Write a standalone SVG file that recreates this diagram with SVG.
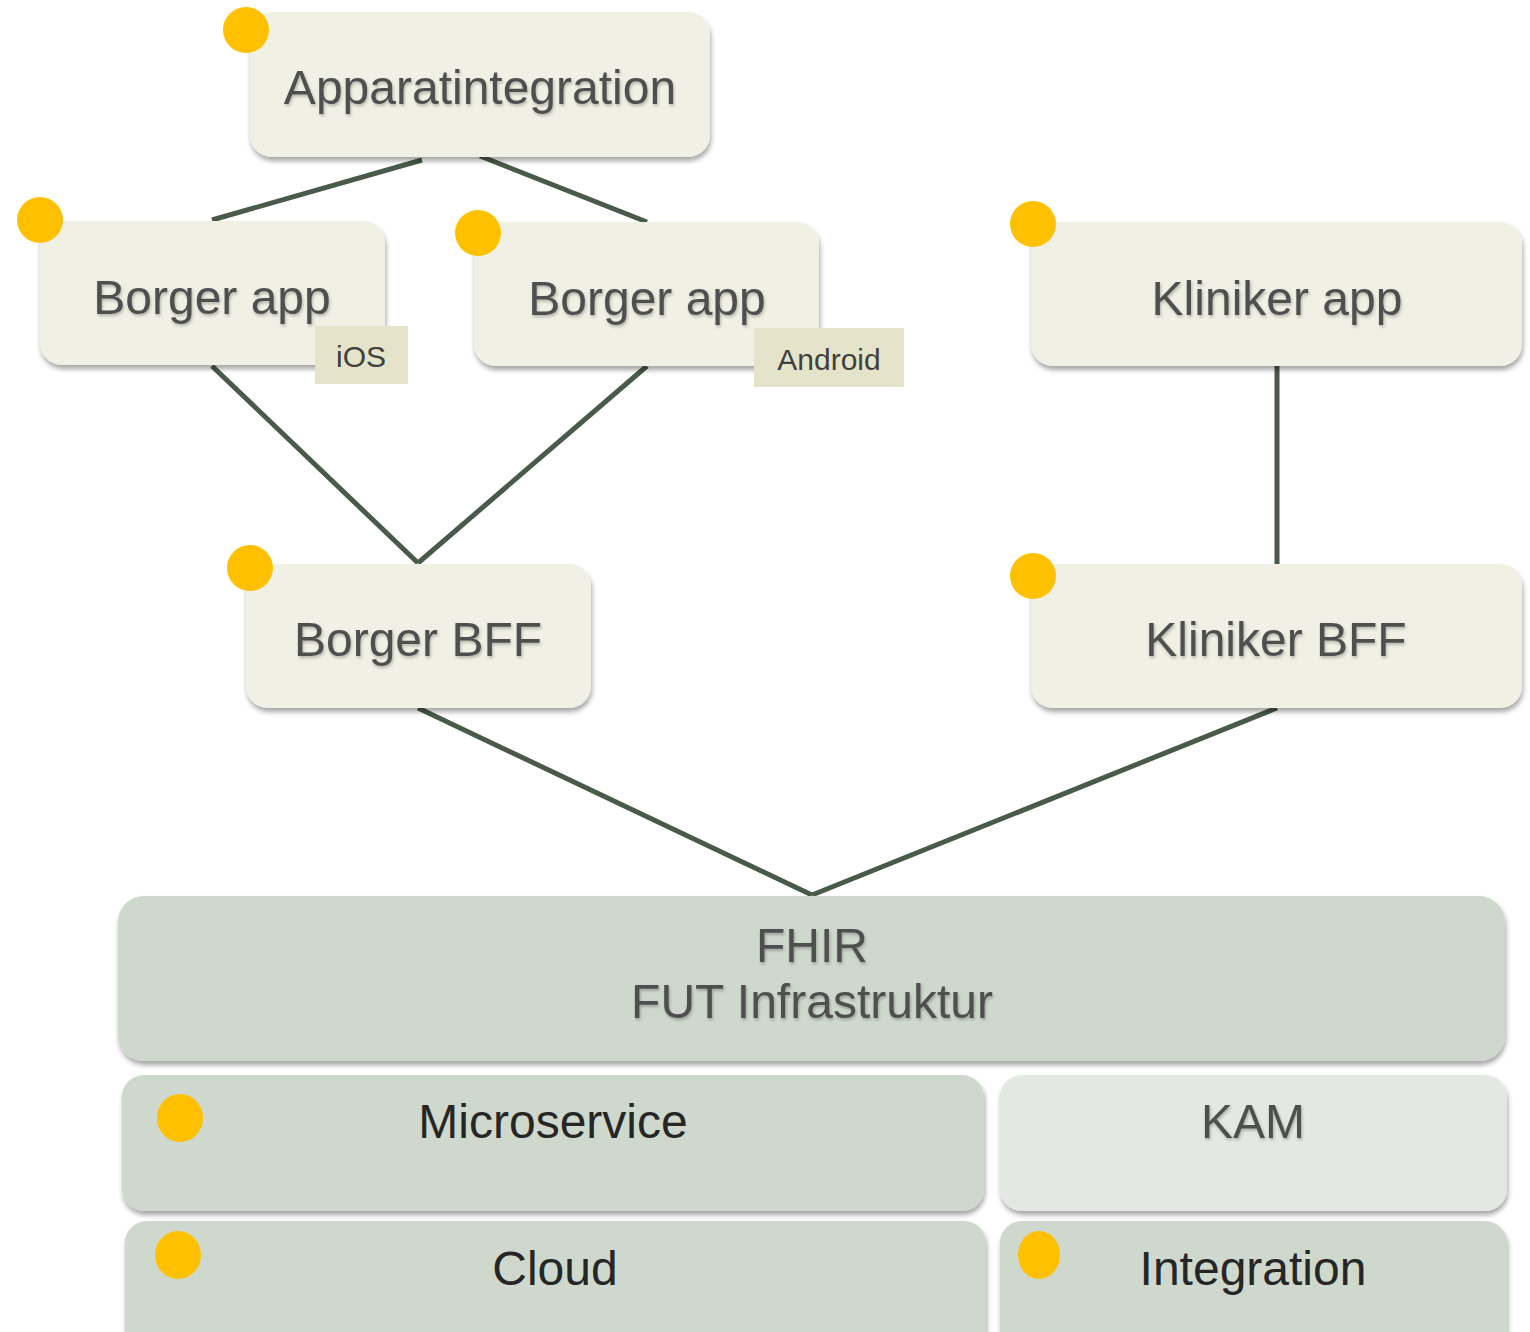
<svg xmlns="http://www.w3.org/2000/svg" width="1530" height="1332" viewBox="0 0 1530 1332">
<defs>
<filter id="sh" x="-10%" y="-10%" width="120%" height="130%">
<feDropShadow dx="1" dy="4" stdDeviation="2.5" flood-color="#000" flood-opacity="0.35"/>
</filter>
<filter id="tsh" x="-5%" y="-10%" width="110%" height="140%">
<feDropShadow dx="1" dy="2" stdDeviation="1.5" flood-color="#000" flood-opacity="0.25"/>
</filter>
</defs>
<style>
.cream{fill:#F1F0E4;filter:url(#sh)}
.green{fill:#CFD8CC;filter:url(#sh)}
.light{fill:#E3E8E2;filter:url(#sh)}
.tag{fill:#E5E4CB}
.dot{fill:#FFC000}
.t{font-family:"Liberation Sans",Arial,sans-serif;font-size:48px;fill:#505050;text-anchor:middle;filter:url(#tsh)}
.td{font-family:"Liberation Sans",Arial,sans-serif;font-size:48px;fill:#262626;text-anchor:middle}
.ts{font-family:"Liberation Sans",Arial,sans-serif;font-size:30px;fill:#404040;text-anchor:middle}
.c{stroke:#4A5A4A;stroke-width:5;fill:none}
</style>
<rect width="1530" height="1332" fill="#fff"/>
<g id="connectors">
<line class="c" x1="422" y1="160" x2="212" y2="220"/>
<line class="c" x1="480" y1="156" x2="647" y2="222"/>
<line class="c" x1="212" y1="366" x2="418" y2="563"/>
<line class="c" x1="647" y1="366" x2="418" y2="563"/>
<line class="c" x1="1277" y1="366" x2="1277" y2="565"/>
<line class="c" x1="418" y1="708" x2="812" y2="895"/>
<line class="c" x1="1277" y1="708" x2="812" y2="895"/>
</g>
<g id="apparatintegration">
<rect class="cream" x="250" y="12" width="460" height="145" rx="22"/>
<text class="t" x="480" y="104">Apparatintegration</text>
<circle class="dot" cx="246" cy="30" r="23"/>
</g>
<g id="borger-app-ios">
<rect class="cream" x="40" y="221" width="345" height="144" rx="22"/>
<text class="t" x="212" y="314">Borger app</text>
<circle class="dot" cx="40" cy="220" r="23"/>
<rect class="tag" x="315" y="326" width="93" height="58"/>
<text class="ts" x="361" y="367">iOS</text>
</g>
<g id="borger-app-android">
<rect class="cream" x="474" y="222" width="345" height="144" rx="22"/>
<text class="t" x="647" y="315">Borger app</text>
<circle class="dot" cx="478" cy="233" r="23"/>
<rect class="tag" x="754" y="328" width="150" height="59"/>
<text class="ts" x="829" y="370">Android</text>
</g>
<g id="kliniker-app">
<rect class="cream" x="1031" y="222" width="491" height="144" rx="22"/>
<text class="t" x="1277" y="315">Kliniker app</text>
<circle class="dot" cx="1033" cy="224" r="23"/>
</g>
<g id="borger-bff">
<rect class="cream" x="246" y="564" width="345" height="144" rx="22"/>
<text class="t" x="418" y="656">Borger BFF</text>
<circle class="dot" cx="250" cy="568" r="23"/>
</g>
<g id="kliniker-bff">
<rect class="cream" x="1031" y="564" width="491" height="144" rx="22"/>
<text class="t" x="1276" y="656">Kliniker BFF</text>
<circle class="dot" cx="1033" cy="576" r="23"/>
</g>
<g id="fhir">
<rect class="green" x="118" y="896" width="1387" height="165" rx="26"/>
<text class="t" x="812" y="962">FHIR</text>
<text class="t" x="812" y="1018">FUT Infrastruktur</text>
</g>
<g id="microservice">
<rect class="green" x="122" y="1075" width="862" height="136" rx="22"/>
<text class="td" x="553" y="1138">Microservice</text>
<ellipse class="dot" cx="180" cy="1118" rx="23" ry="24"/>
</g>
<g id="kam">
<rect class="light" x="1000" y="1075" width="507" height="136" rx="22"/>
<text class="t" x="1253" y="1138">KAM</text>
</g>
<g id="cloud">
<rect class="green" x="125" y="1221" width="861" height="140" rx="22"/>
<text class="td" x="555" y="1285">Cloud</text>
<ellipse class="dot" cx="178" cy="1255" rx="23" ry="24"/>
</g>
<g id="integration">
<rect class="green" x="1000" y="1221" width="507" height="140" rx="22"/>
<text class="td" x="1253" y="1285">Integration</text>
<ellipse class="dot" cx="1039" cy="1255" rx="21" ry="24"/>
</g>
</svg>
